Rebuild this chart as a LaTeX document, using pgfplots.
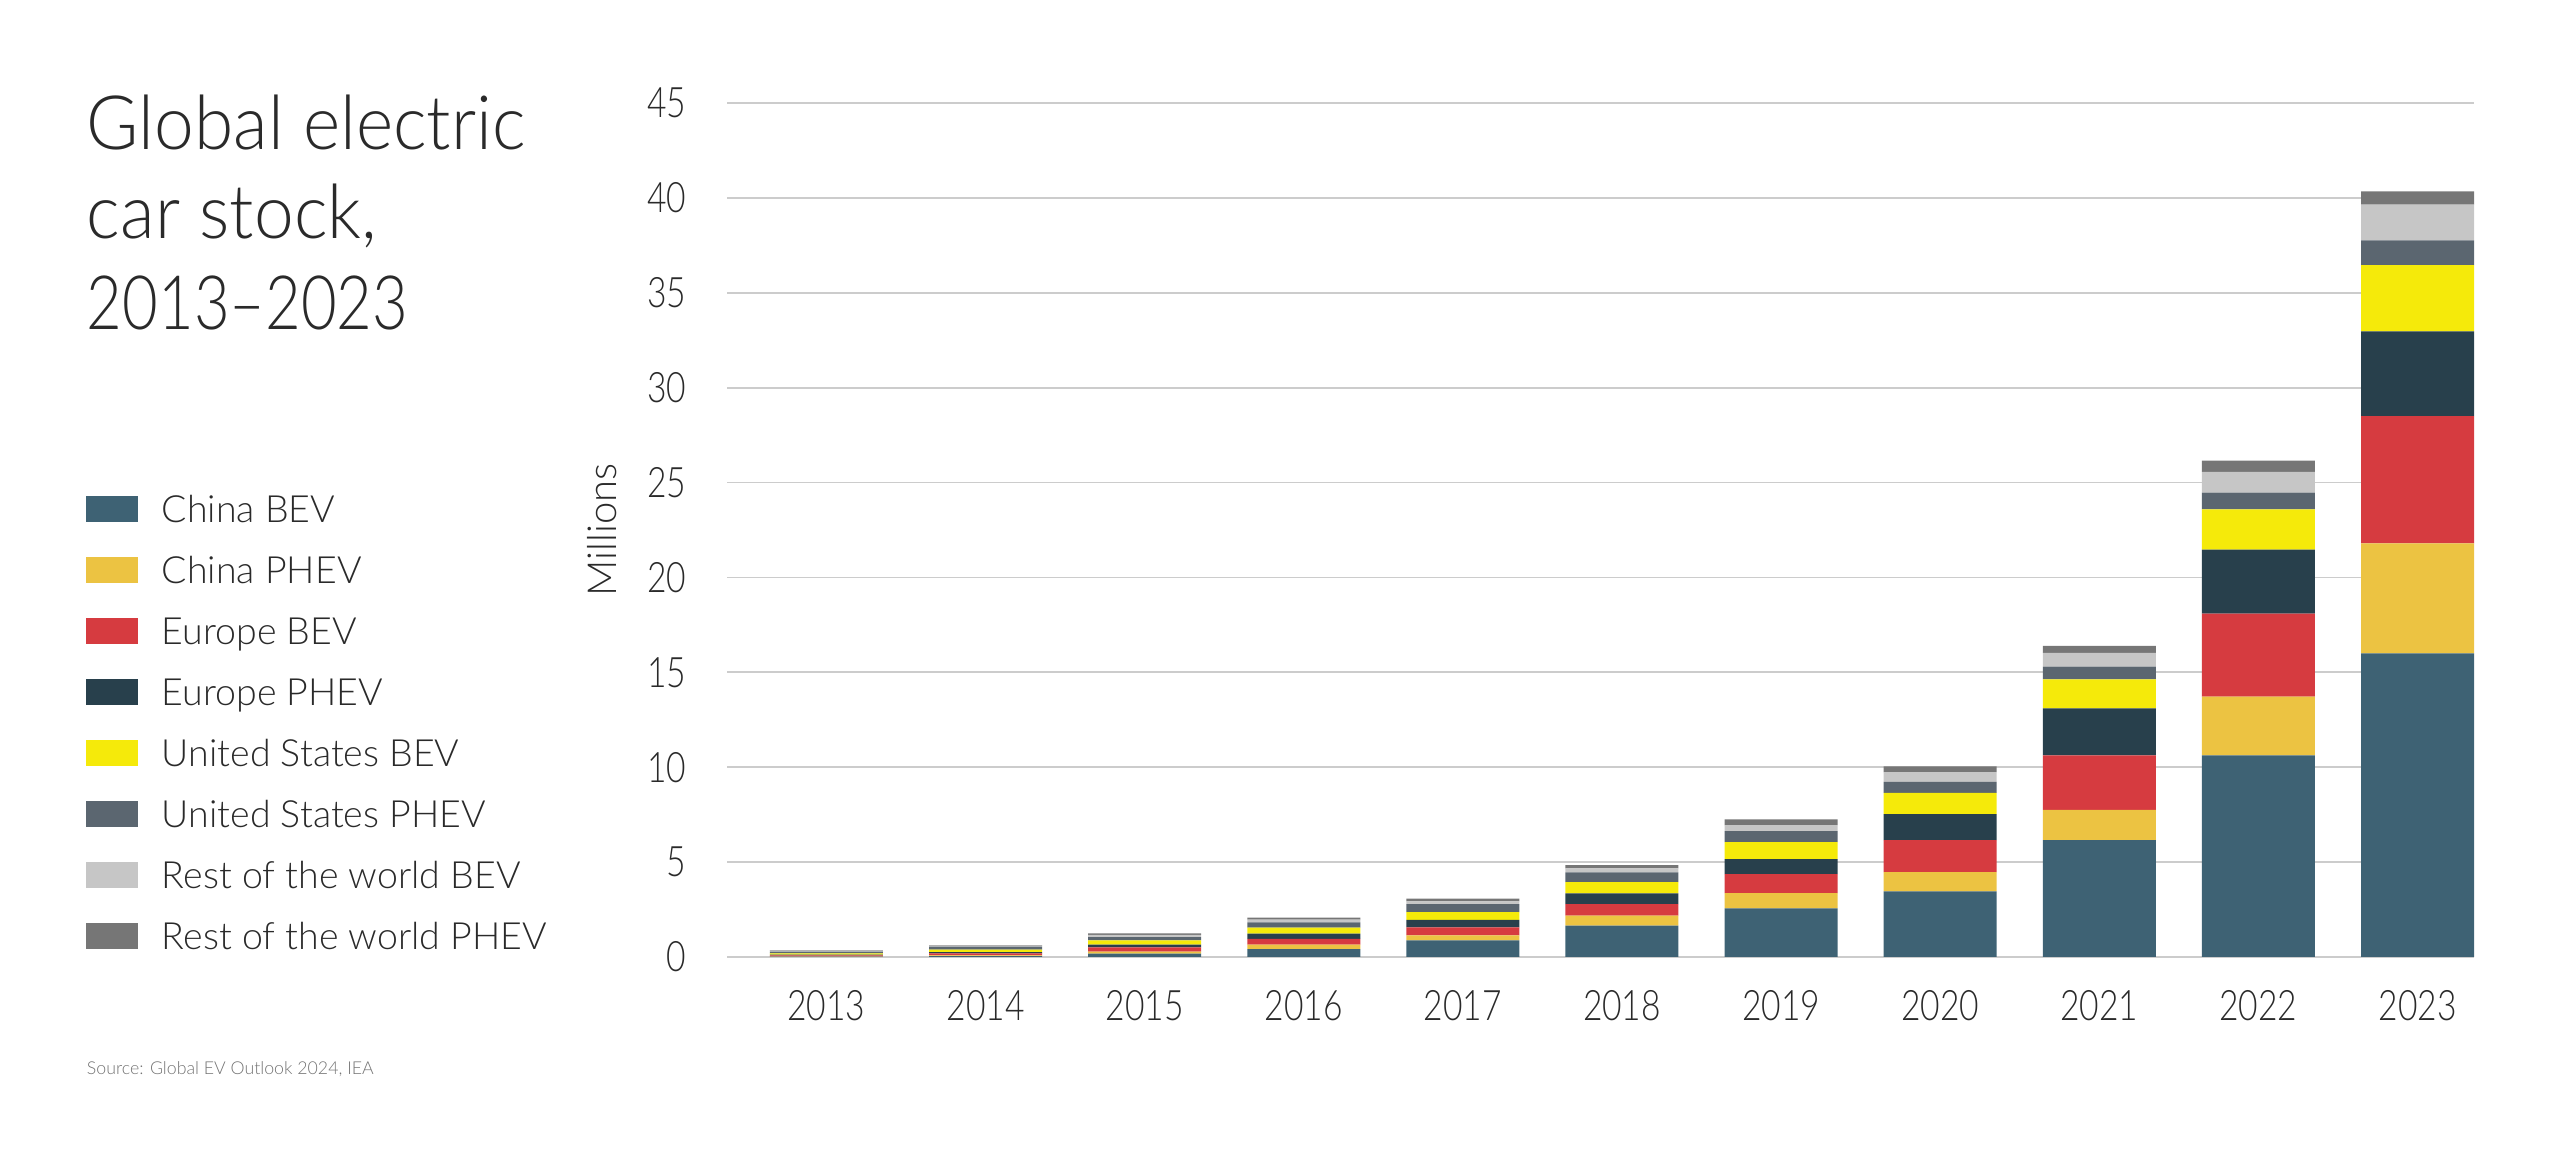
\documentclass[border=0pt]{standalone}
\usepackage{fontspec}
\setmainfont{Lato}[UprightFont=* Light]
\newfontfamily\narrowfont{Lato}[UprightFont=* Light, FakeStretch=0.8]
\newfontfamily\titlefont{Lato}[UprightFont=* Light, FakeStretch=0.95, Ligatures=TeX]
\newfontfamily\titlenarrow{Lato}[UprightFont=* Light, FakeStretch=0.82, Ligatures=TeX]
\usepackage{pgfplots}
\usepackage{pgfplotstable}
\pgfplotsset{compat=1.18}

\definecolor{cbev}{HTML}{3E6274}
\definecolor{cphev}{HTML}{ECC342}
\definecolor{ebev}{HTML}{D63B40}
\definecolor{ephev}{HTML}{28404C}
\definecolor{ubev}{HTML}{F5EA0A}
\definecolor{uphev}{HTML}{5B6670}
\definecolor{rbev}{HTML}{C6C6C6}
\definecolor{rphev}{HTML}{767676}
\definecolor{gridc}{HTML}{CCCCCC}
\definecolor{txt}{HTML}{2A2A2A}

\pgfplotstableread{
x  cb     cp    eb    ep    ub    up    rb    rp
0  0.02   0.01  0.05  0.04  0.07  0.09  0.06  0.02
1  0.05   0.03  0.11  0.07  0.13  0.15  0.06  0.03
2  0.18   0.10  0.23  0.14  0.23  0.17  0.11  0.09
3  0.42   0.23  0.30  0.28  0.32  0.28  0.14  0.10
4  0.88   0.26  0.42  0.39  0.42  0.41  0.15  0.14
5  1.65   0.53  0.61  0.56  0.60  0.51  0.21  0.17
6  2.56   0.81  1.00  0.79  0.89  0.58  0.32  0.30
7  3.46   1.01  1.69  1.37  1.12  0.58  0.51  0.31
8  6.16   1.59  2.88  2.47  1.53  0.67  0.72  0.38
9  10.63  3.09  4.37  3.38  2.12  0.88  1.09  0.60
10 16.00  5.80  6.70  4.46  3.50  1.30  1.89  0.70
}\evdata

\begin{document}
\begin{tikzpicture}[x=1pt,y=1pt]
\path[use as bounding box] (0,0) rectangle (512,232.8);
\begin{axis}[
  at={(145.4pt,41.4pt)}, anchor=south west,
  scale only axis, width=349.4pt, height=170.8pt,
  ybar stacked, bar width=22.6pt,
  xmin=-0.625, xmax=10.355, ymin=0, ymax=45,
  xtick={0,...,10},
  xticklabels={2013,2014,2015,2016,2017,2018,2019,2020,2021,2022,2023},
  ytick={0,5,...,45},
  axis line style={draw=none},
  major tick length=0pt,
  ymajorgrids, grid style={gridc, line width=0.35pt},
  /pgf/number format/assume math mode=true,
  tick label style={font=\narrowfont\fontsize{8.4}{10}\selectfont, text=txt},
  x tick label style={anchor=base, inner sep=0pt, yshift=-12.7pt},
  y tick label style={anchor=east, inner sep=0pt, xshift=-8pt},
  ylabel={Millions},
  ylabel style={at={(axis description cs:-0.0716,0.5)}, anchor=center, font=\fontsize{8}{10}\selectfont, text=txt},
  every axis plot/.append style={draw=none},
]
\addplot[fill=cbev] table[x=x,y=cb] {\evdata};
\addplot[fill=cphev] table[x=x,y=cp] {\evdata};
\addplot[fill=ebev] table[x=x,y=eb] {\evdata};
\addplot[fill=ephev] table[x=x,y=ep] {\evdata};
\addplot[fill=ubev] table[x=x,y=ub] {\evdata};
\addplot[fill=uphev] table[x=x,y=up] {\evdata};
\addplot[fill=rbev] table[x=x,y=rb] {\evdata};
\addplot[fill=rphev] table[x=x,y=rp] {\evdata};
\end{axis}

% Title
\begin{scope}[every node/.style={anchor=base west, inner sep=0pt, text=txt}]
\node[font=\titlefont\fontsize{15}{18}\selectfont] at (17.2,202.8) {Global electric};
\node[font=\titlefont\fontsize{15}{18}\selectfont] at (17.2,185.0) {car stock,};
\node[font=\titlenarrow\fontsize{15}{18}\selectfont] at (17.2,166.8) {2013–2023};
\end{scope}

% Legend
\foreach \c/\t [count=\i from 0] in {cbev/China BEV, cphev/China PHEV, ebev/Europe BEV, ephev/Europe PHEV, ubev/United States BEV, uphev/United States PHEV, rbev/Rest of the world BEV, rphev/Rest of the world PHEV}{
  \pgfmathsetmacro{\yy}{130.9-12.18*\i}
  \fill[\c] (17.2,\yy-2.6) rectangle (27.6,\yy+2.6);
  \node[anchor=base west, inner sep=0pt, text=txt, font=\fontsize{7.5}{9}\selectfont] at (32.2,\yy-2.7) {\t};
}

% Source
\node[anchor=base west, inner sep=0pt, text=black!55, font=\fontsize{3.55}{4.5}\selectfont] at (17.2,17.8) {Source: Global EV Outlook 2024, IEA};
\end{tikzpicture}
\end{document}
